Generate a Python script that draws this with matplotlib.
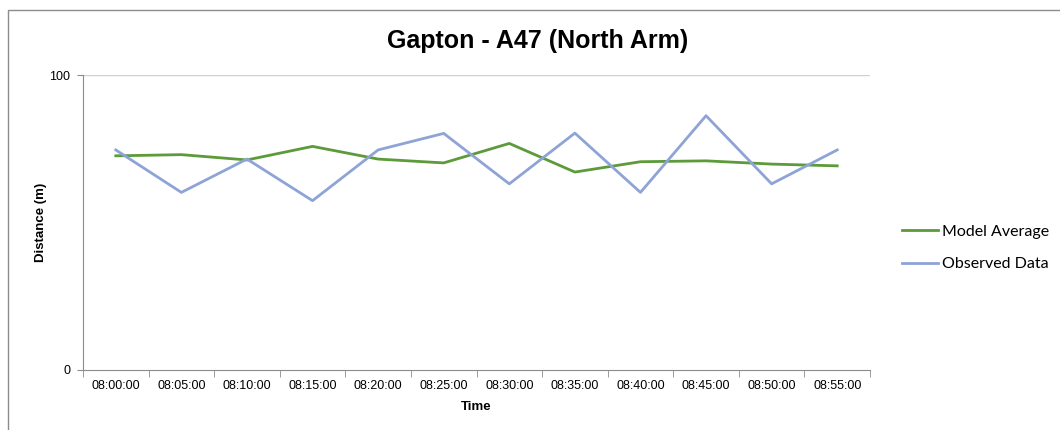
import matplotlib.pyplot as plt
from matplotlib.patches import Rectangle

times = ['08:00:00', '08:05:00', '08:10:00', '08:15:00', '08:20:00', '08:25:00',
         '08:30:00', '08:35:00', '08:40:00', '08:45:00', '08:50:00', '08:55:00']
model_average = [72.6, 73.0, 71.2, 75.8, 71.5, 70.2, 76.8, 67.1, 70.6, 70.9, 69.8, 69.2]
observed = [74.6, 60.2, 71.5, 57.4, 74.6, 80.2, 63.1, 80.3, 60.2, 86.2, 63.1, 74.6]

W, H = 1060, 430
fig = plt.figure(figsize=(W / 100, H / 100), dpi=100)
ax = fig.add_axes([83 / W, 1 - 370 / H, (870 - 83) / W, (370 - 75) / H])

# chart border (only top and left visible)
fig.patches.append(Rectangle((8 / W, -0.1), 1.2, 1.1 - 10 / H, transform=fig.transFigure,
                             fill=False, edgecolor='#8c8c8c', linewidth=1))

x = list(range(len(times)))
ax.plot(x, model_average, color='#5c9a3a', linewidth=2, label='Model Average')
ax.plot(x, observed, color='#8ea3d6', linewidth=2, label='Observed Data')

ax.set_xlim(-0.5, len(times) - 0.5)
ax.set_ylim(0, 100)
ax.set_yticks([0, 100])
ax.set_xticks(x)
ax.set_xticklabels(times, fontsize=9, family='Liberation Sans')
ax.set_xticks([i - 0.5 for i in range(len(times) + 1)], minor=True)
ax.tick_params(axis='x', which='major', length=0, pad=7)
ax.tick_params(axis='x', which='minor', length=5, color='#8c8c8c')
ax.tick_params(axis='y', length=4, color='#8c8c8c', labelsize=9, pad=5)
for lbl in ax.get_yticklabels():
    lbl.set_family('Liberation Sans')

ax.axhline(100, color='#d0d0d0', linewidth=1, zorder=0)
for s in ['top', 'right']:
    ax.spines[s].set_visible(False)
for s in ['left', 'bottom']:
    ax.spines[s].set_color('#8c8c8c')

ax.set_xlabel('Time', fontsize=9.5, fontweight='bold', family='Liberation Sans', labelpad=7)
ax.set_ylabel('Distance (m)', fontsize=9.5, fontweight='bold', family='Liberation Sans', labelpad=2)
fig.text(538 / W, 1 - 41 / H, 'Gapton - A47 (North Arm)', ha='center', va='center',
         fontsize=18, fontweight='bold', family='Liberation Sans')

fig.legend(loc='center left', bbox_to_anchor=(888 / W, 1 - 248 / H), frameon=False,
           prop={'family': 'Lato', 'size': 11.5}, handlelength=2.25, handletextpad=0.25,
           labelspacing=1.15)

fig.savefig('out.png', dpi=100)
